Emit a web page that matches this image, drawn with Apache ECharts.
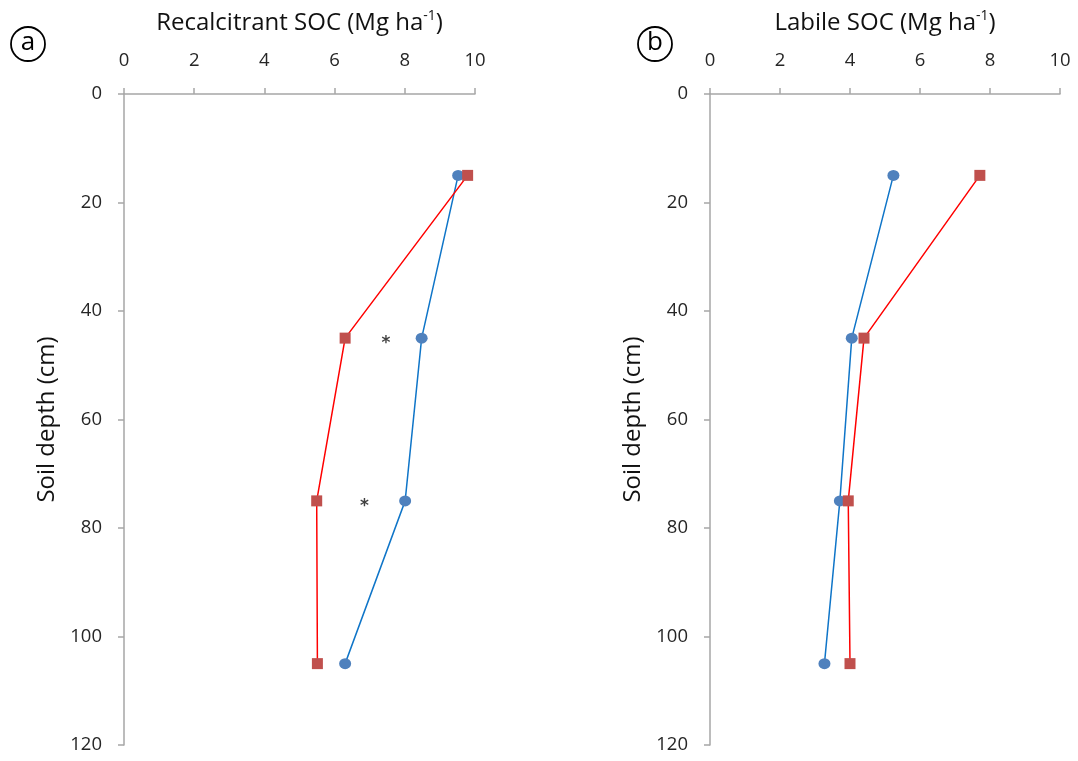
<!DOCTYPE html>
<html>
<head>
<meta charset="utf-8">
<script src="https://cdn.jsdelivr.net/npm/echarts@6/dist/echarts.min.js"></script>
<style>
html,body{margin:0;padding:0;background:#fff;}
#chart{width:1078px;height:761px;}
</style>
</head>
<body>
<div id="chart"></div>
<script>
// Depths (cm) - y axis
var depths = [15, 45, 75, 105];
// Panel a: Recalcitrant SOC (Mg ha-1)
var recalcBlue = [9.52, 8.48, 8.01, 6.30];
var recalcRed  = [9.79, 6.30, 5.49, 5.51];
// Panel b: Labile SOC (Mg ha-1)
var labileBlue = [5.24, 4.05, 3.71, 3.27];
var labileRed  = [7.71, 4.40, 3.95, 4.00];
// Significance markers in panel a: [x, depth]
var starsA = [[7.46, 45.5], [6.85, 75.5]];
// Axis ticks
var xTicks = {min: 0, max: 10, interval: 2};
var yTicks = {min: 0, max: 120, interval: 20};
var xNames = ['Recalcitrant SOC (Mg ha', 'Labile SOC (Mg ha'];
var yName = 'Soil depth (cm)';
var panelLetters = ['a', 'b'];

function pairs(xs) { return xs.map(function (v, i) { return [v, depths[i]]; }); }

var FONT = 'Open Sans';
var axisGrey = '#a6a6a6';
var grids = [
  {left: 124, top: 94, width: 351, height: 651},
  {left: 710, top: 94, width: 350, height: 651}
];

function xAxis(i) {
  return {
    type: 'value', gridIndex: i, position: 'top',
    min: xTicks.min, max: xTicks.max, interval: xTicks.interval,
    name: '{a|' + xNames[i] + '}{s|-1}{a|)}',
    nameLocation: 'middle', nameGap: 59,
    nameTextStyle: {
      rich: {
        a: {fontFamily: FONT, fontSize: 24, color: '#111', lineHeight: 26, verticalAlign: 'bottom'},
        s: {fontFamily: FONT, fontSize: 14, color: '#111', lineHeight: 26, verticalAlign: 'top'}
      }
    },
    axisLine: {show: true, onZero: false, lineStyle: {color: axisGrey, width: 1.5}},
    axisTick: {show: true, inside: false, length: 6, lineStyle: {color: axisGrey, width: 1.5}},
    axisLabel: {fontFamily: FONT, fontSize: 18.5, color: '#262626', margin: 24},
    splitLine: {show: false}
  };
}
function yAxis(i) {
  return {
    type: 'value', gridIndex: i, inverse: true,
    min: yTicks.min, max: yTicks.max, interval: yTicks.interval,
    name: yName, nameLocation: 'middle', nameGap: 65, nameRotate: 90,
    nameTextStyle: {fontFamily: FONT, fontSize: 24, color: '#111'},
    axisLine: {show: true, onZero: false, lineStyle: {color: axisGrey, width: 1.5}},
    axisTick: {show: true, inside: false, length: 6, lineStyle: {color: axisGrey, width: 1.5}},
    axisLabel: {fontFamily: FONT, fontSize: 18.5, color: '#262626', margin: 22},
    splitLine: {show: false}
  };
}
function blueSeries(i, xs) {
  return {
    type: 'line', xAxisIndex: i, yAxisIndex: i, data: pairs(xs),
    symbol: 'circle', symbolSize: [12, 11],
    itemStyle: {color: '#4f81bd'},
    lineStyle: {color: '#0f75c8', width: 1.5},
    z: 2, animation: false
  };
}
function redSeries(i, xs) {
  return {
    type: 'line', xAxisIndex: i, yAxisIndex: i, data: pairs(xs),
    symbol: 'rect', symbolSize: 11,
    itemStyle: {color: '#c0504d'},
    lineStyle: {color: '#ff0000', width: 1.5},
    z: 3, animation: false
  };
}

var chart = echarts.init(document.getElementById('chart'), null, {renderer: 'canvas'});
chart.setOption({
  backgroundColor: '#fff',
  animation: false,
  grid: grids,
  xAxis: [xAxis(0), xAxis(1)],
  yAxis: [yAxis(0), yAxis(1)],
  series: [
    blueSeries(0, recalcBlue),
    redSeries(0, recalcRed),
    blueSeries(1, labileBlue),
    redSeries(1, labileRed),
    {
      type: 'scatter', xAxisIndex: 0, yAxisIndex: 0, data: starsA,
      symbol: 'circle', symbolSize: 1, itemStyle: {color: 'rgba(0,0,0,0)'},
      label: {show: true, position: 'inside', formatter: '*', fontFamily: 'DejaVu Sans', fontWeight: 'bold', fontSize: 17, color: '#111', offset: [0, 3]},
      animation: false
    }
  ],
  graphic: [
    {type: 'circle', shape: {cx: 28, cy: 44, r: 17}, style: {fill: 'none', stroke: '#000', lineWidth: 1.8}},
    {type: 'text', x: 28, y: 43, style: {text: panelLetters[0], fontFamily: FONT, fontSize: 26, fill: '#000', textAlign: 'center', textVerticalAlign: 'middle'}},
    {type: 'circle', shape: {cx: 655, cy: 44, r: 17}, style: {fill: 'none', stroke: '#000', lineWidth: 1.8}},
    {type: 'text', x: 655, y: 43, style: {text: panelLetters[1], fontFamily: FONT, fontSize: 26, fill: '#000', textAlign: 'center', textVerticalAlign: 'middle'}}
  ]
});
</script>
</body>
</html>
